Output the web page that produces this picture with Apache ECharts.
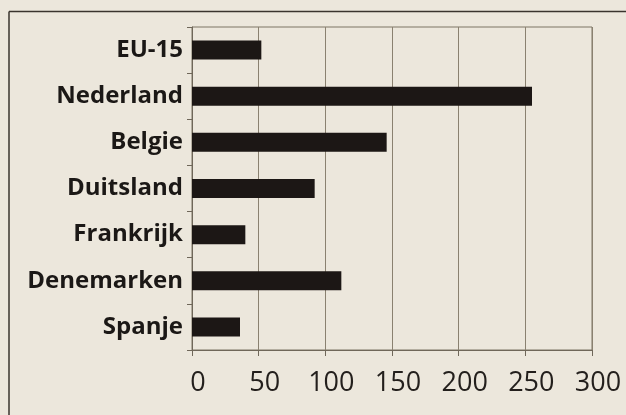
<!DOCTYPE html>
<html>
<head>
<meta charset="utf-8">
<script src="https://cdn.jsdelivr.net/npm/echarts@6/dist/echarts.min.js"></script>
<style>
  html, body { margin: 0; padding: 0; background: #ece7dc; }
  #chart { width: 626px; height: 415px; }
</style>
</head>
<body>
<div id="chart"></div>
<script>
var countries = ['EU-15', 'Nederland', 'Belgie', 'Duitsland', 'Frankrijk', 'Denemarken', 'Spanje'];
var values = [52, 255, 146, 92, 40, 112, 36];
var ticks = [0, 50, 100, 150, 200, 250, 300];

var chart = echarts.init(document.getElementById('chart'));

var option = {
  backgroundColor: '#ece7dc',
  animation: false,
  graphic: [
    // outer frame of the figure (runs off the page right and bottom)
    { type: 'line', shape: { x1: 9, y1: 11.5, x2: 640, y2: 11.5 }, style: { stroke: '#3a342e', lineWidth: 1.5 } },
    { type: 'line', shape: { x1: 9, y1: 11.5, x2: 9, y2: 430 }, style: { stroke: '#3a342e', lineWidth: 1.5 } }
  ],
  grid: {
    left: 192,
    right: 34,
    top: 27,
    bottom: 65,
    show: true,
    borderColor: '#7d7465',
    borderWidth: 1,
    backgroundColor: 'transparent'
  },
  xAxis: {
    type: 'value',
    min: ticks[0],
    max: ticks[ticks.length - 1],
    interval: 50,
    axisLine: { show: true, lineStyle: { color: '#6f6759', width: 1.2 } },
    axisTick: { show: true, length: 6, lineStyle: { color: '#6f6759' } },
    splitLine: { show: true, lineStyle: { color: '#8a8170', width: 1 } },
    axisLabel: {
      fontFamily: 'Open Sans',
      fontSize: 27,
      color: '#231f1c',
      margin: 20,
      padding: [0, 0, 0, 12]
    }
  },
  yAxis: {
    type: 'category',
    inverse: true,
    data: countries,
    axisLine: { show: true, lineStyle: { color: '#6f6759' } },
    axisTick: { show: true, length: 5, lineStyle: { color: '#6f6759' } },
    axisLabel: {
      fontFamily: 'Open Sans',
      fontWeight: 'bold',
      fontSize: 24,
      color: '#1b1816',
      margin: 9
    }
  },
  series: [{
    type: 'bar',
    data: values,
    barWidth: 19,
    itemStyle: { color: '#1c1715' }
  }]
};

chart.setOption(option);
</script>
</body>
</html>
